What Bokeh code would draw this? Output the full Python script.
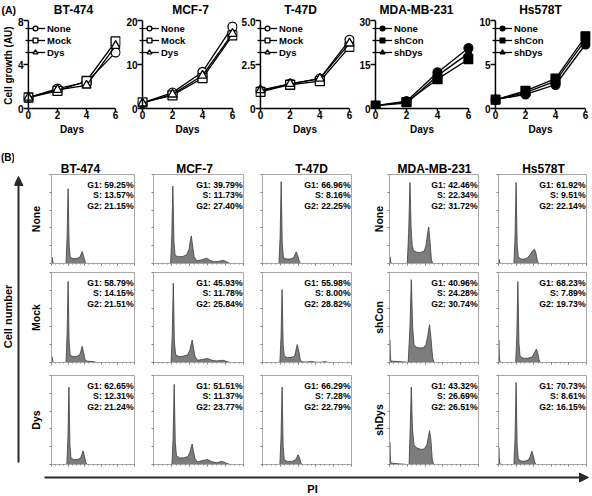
import math
from bokeh.plotting import figure
from bokeh.models import (Range1d, LinearAxis, FixedTicker, Legend, LegendItem,
                          Label, Arrow, NormalHead, Span)
from bokeh.layouts import row, column
from bokeh.embed import file_html
from bokeh.resources import INLINE

FONT = "Liberation Sans"

# ---------------- DATA: (A) growth curves ----------------
days = [0, 2, 4, 6]
cell_lines = ["BT-474", "MCF-7", "T-47D", "MDA-MB-231", "Hs578T"]
treat_luminal = ["None", "Mock", "Dys"]
treat_basal = ["None", "shCon", "shDys"]

bt474_none = [1.0, 1.8, 2.4, 5.1]
bt474_mock = [1.0, 1.6, 2.5, 6.1]
bt474_dys = [1.0, 1.7, 2.1, 5.7]
mcf7_none = [1.3, 3.6, 8.3, 18.6]
mcf7_mock = [1.4, 3.0, 6.9, 16.6]
mcf7_dys = [1.2, 3.2, 7.5, 17.0]
t47d_none = [1.0, 1.4, 1.7, 3.9]
t47d_mock = [0.95, 1.35, 1.55, 3.5]
t47d_dys = [1.05, 1.4, 1.7, 3.7]
mda_none = [1.0, 2.5, 12.3, 20.6]
mda_shcon = [1.0, 2.2, 10.0, 16.8]
mda_shdys = [1.0, 1.8, 11.2, 18.8]
hs_none = [1.0, 1.6, 2.7, 7.3]
hs_shcon = [1.0, 2.0, 3.4, 8.2]
hs_shdys = [1.0, 1.8, 3.1, 7.8]

bt474_yticks = [0, 4, 8]
mcf7_yticks = [0, 10, 20]
t47d_yticks = [0, 2.5, 5]
mda_yticks = [0, 15, 30]
hs_yticks = [0, 5, 10]
bt474_ylabels = ["0", "4", "8"]
mcf7_ylabels = ["0", "10", "20"]
t47d_ylabels = ["0", "2.5", "5.0"]
mda_ylabels = ["0", "15", "30"]
hs_ylabels = ["0", "5", "10"]

# ---------------- DATA: (B) cell-cycle histograms (PI channel %, relative count %) ----------------
h_bt474_none_x = [0, 0.6, 1.4, 2.2, 17.5, 18.8, 20.0, 21.2, 22.5, 26, 30, 34, 35.5, 37, 38.5, 40.5, 42, 100]
h_bt474_none_y = [0, 7, 3, 0, 0, 30, 84, 22, 7, 5.5, 5.5, 7, 10, 13.5, 9, 2, 0, 0]
h_bt474_mock_x = [0, 0.6, 1.4, 2.2, 17.5, 18.8, 20, 21.2, 22.5, 26, 30, 34, 35.5, 37, 38.5, 40.5, 43, 50, 55, 100]
h_bt474_mock_y = [0, 6.6, 2, 0, 0, 32, 90, 24, 8, 6.6, 6.6, 8.5, 13, 18, 12, 3, 1.5, 1, 0, 0]
h_bt474_dys_x = [0, 18.5, 19.8, 21, 22.2, 23.5, 27, 31, 35, 36.5, 38, 39.5, 41.5, 43, 100]
h_bt474_dys_y = [0, 0, 30, 87, 22, 7, 5.5, 5.5, 7, 11, 15.4, 10, 2, 0, 0]

h_mcf7_none_x = [0, 19, 20.3, 21.5, 22.7, 24, 28, 33, 37, 39.5, 41, 42, 43.2, 45, 48, 53, 59, 64, 68, 73, 77, 81, 85, 100]
h_mcf7_none_y = [0, 0, 30, 87, 25, 9, 7.5, 8, 10, 16, 26, 31, 22, 8, 3, 4, 6, 3, 2, 2.5, 3.7, 2, 0, 0]
h_mcf7_mock_x = [0, 19.5, 20.8, 22, 23.2, 24.5, 28, 33, 38, 40.5, 42, 43, 44.2, 46, 49, 55, 60, 65, 70, 77, 82, 85, 100]
h_mcf7_mock_y = [0, 0, 30, 88, 24, 9, 6.6, 7, 8.5, 14, 21, 25, 18, 7, 2.5, 3.5, 4.4, 2.5, 1.8, 2.5, 1, 0, 0]
h_mcf7_dys_x = [0, 20.5, 21.8, 23, 24.2, 25.5, 29, 34, 38.5, 40.5, 42, 43, 44.2, 46, 49, 55, 60, 65, 70, 76, 81, 85, 100]
h_mcf7_dys_y = [0, 0, 30, 90, 25, 10, 7.3, 7.5, 9, 14, 20, 23, 16, 7, 3, 4.5, 5.5, 3, 2, 3.5, 1.5, 0, 0]

h_t47d_none_x = [0, 18.5, 19.8, 21, 22.2, 23.5, 27, 31, 35, 36.5, 38, 39.5, 41.5, 43, 100]
h_t47d_none_y = [0, 0, 30, 92, 22, 6.5, 5, 5, 6.5, 10, 13, 9, 2, 0, 0]
h_t47d_mock_x = [0, 19.5, 20.8, 22, 23.2, 24.5, 28, 32, 36, 37.5, 39, 40.5, 42.5, 44, 50, 55, 60, 66, 70, 74, 100]
h_t47d_mock_y = [0, 0, 28, 81, 20, 7, 5.5, 5.5, 7, 13, 20, 14, 3, 0.8, 0.5, 1.2, 0.3, 0.3, 1, 0, 0]
h_t47d_dys_x = [0, 19.5, 20.8, 22, 23.2, 24.5, 28, 33, 37, 38.5, 40, 41.5, 43, 44.5, 100]
h_t47d_dys_y = [0, 0, 30, 87, 20, 5, 3.5, 3.5, 5, 8, 11, 8, 2, 0, 0]

h_mda_none_x = [0, 0.6, 1.4, 2.2, 20, 21.5, 23, 24.3, 25.5, 27, 31, 35, 39, 41, 42.5, 44, 45.5, 47, 48.5, 100]
h_mda_none_y = [0, 7.5, 2, 0, 0, 35, 91, 40, 20, 14.5, 12.5, 12.5, 14, 20, 32, 41, 25, 5, 0, 0]
h_mda_shcon_x = [0, 0.4, 0.8, 1.4, 3, 10, 18, 21, 23, 24.5, 26, 27.5, 30, 34, 38, 41, 43, 45, 46.5, 48.5, 50, 100]
h_mda_shcon_y = [0, 25, 12, 2, 1.5, 1, 0.5, 0, 40, 92, 40, 20, 17, 16, 16.5, 20, 30, 42, 28, 5, 0, 0]
h_mda_shdys_x = [0, 0.4, 0.8, 1.4, 3, 10, 20, 22, 23.2, 24.5, 25.8, 27.5, 30, 35, 39, 42, 43.5, 45, 46.5, 48, 49.5, 100]
h_mda_shdys_y = [0, 25, 12, 2, 1.5, 0.8, 0, 0, 38, 87, 40, 22, 19, 17, 17.5, 22, 30, 38, 28, 6, 0, 0]

h_hs_none_x = [0, 0.6, 1.4, 2.2, 17.5, 18.8, 20, 21.2, 22.5, 26, 30, 33, 36, 38.5, 41, 42.5, 44, 45.5, 100]
h_hs_none_y = [0, 5, 1.5, 0, 0, 30, 91, 22, 7, 5, 5, 6.5, 10, 14, 16, 12, 4, 0, 0]
h_hs_shcon_x = [0, 0.4, 0.8, 1.4, 3, 19.5, 20.8, 22, 23.2, 24.5, 28, 33, 38, 40.5, 43, 44.5, 46, 47.5, 100]
h_hs_shcon_y = [0, 25, 10, 1.5, 0, 0, 30, 90, 22, 7, 4.8, 4.8, 6, 10, 15, 11, 3, 0, 0]
h_hs_shdys_x = [0, 0.4, 0.8, 1.4, 3, 17.5, 18.8, 20, 21.2, 22.5, 26, 30, 34, 36, 38, 39.5, 41, 42.5, 100]
h_hs_shdys_y = [0, 19, 8, 1.5, 0, 0, 30, 92, 22, 6, 3.8, 3.8, 5, 9, 15, 10, 3, 0, 0]

g1_bt474 = [59.25, 58.79, 62.65]
s_bt474 = [13.57, 14.15, 12.31]
g2_bt474 = [21.15, 21.51, 21.24]
g1_mcf7 = [39.79, 45.93, 51.51]
s_mcf7 = [11.73, 11.78, 11.37]
g2_mcf7 = [27.40, 25.84, 23.77]
g1_t47d = [66.96, 55.98, 66.29]
s_t47d = [8.16, 8.00, 7.28]
g2_t47d = [22.25, 28.82, 22.79]
g1_mda = [42.46, 40.96, 43.32]
s_mda = [22.34, 24.28, 26.69]
g2_mda = [31.72, 30.74, 26.51]
g1_hs = [61.92, 68.23, 70.73]
s_hs = [9.51, 7.89, 8.61]
g2_hs = [22.14, 19.73, 16.15]


# ---------------- LAYOUT (pixel grid of the 592x496 page) ----------------
def bold(obj, prefix, size):
    setattr(obj, prefix + "_font", FONT)
    setattr(obj, prefix + "_font_size", size)
    setattr(obj, prefix + "_font_style", "bold")
    setattr(obj, prefix + "_color", "black")


def blank_fig(w, h, xr, yr, **kw):
    f = figure(width=w, height=h, x_range=Range1d(*xr), y_range=Range1d(*yr),
               x_axis_type=None, y_axis_type=None, toolbar_location=None,
               output_backend="svg", **kw)
    f.outline_line_color = None
    return f


W = 592
STRIP_W = 14                   # left strip: y titles and "(B)"
TOPBAND_H = 17                 # "(A)" and the part-A titles
A_FIG_TOP, A_FIG_BOT = TOPBAND_H, 162
A_TOP, A_BOT = 20, 108         # frame of the growth plots
MID_TOP, MID_BOT = 162, 174    # part-B titles
B_BOTTOM = 468

A_BOUNDS = [14, 122, 238, 356, 476, 592]
A_X0 = [26, 142, 259, 375, 494]
A_X6 = [115, 232, 349, 468, 585]
A_TITLE_X = [73, 190, 300, 416, 540]
PADPX = 5

B_TITLE_X = [80, 194, 311, 434, 543]


def growth_panel(i, series, names, filled, yticks, ylabels):
    b0, b1 = A_BOUNDS[i], A_BOUNDS[i + 1]
    unit = (A_X6[i] - A_X0[i]) / 6
    pad = PADPX / unit
    p = figure(width=b1 - b0, height=A_FIG_BOT - A_FIG_TOP,
               x_range=Range1d(-pad, 6 + pad), y_range=Range1d(0, yticks[-1]),
               x_axis_type=None, y_axis_type=None, toolbar_location=None,
               output_backend="svg",
               min_border_left=A_X0[i] - PADPX - b0, min_border_right=b1 - A_X6[i] - PADPX,
               min_border_top=A_TOP - A_FIG_TOP, min_border_bottom=A_FIG_BOT - A_BOT)
    p.outline_line_color = None

    xa = LinearAxis(ticker=FixedTicker(ticks=days, minor_ticks=[]), bounds=(0, 6),
                    axis_label="Days")
    ya = LinearAxis(ticker=FixedTicker(ticks=yticks, minor_ticks=[]),
                    major_label_overrides={t: l for t, l in zip(yticks, ylabels)})
    for ax in (xa, ya):
        ax.axis_line_width = 1.5
        ax.major_tick_line_width = 1.5
        bold(ax, "major_label_text", "10px")
        bold(ax, "axis_label_text", "10px")
    xa.major_tick_out = 3
    xa.major_tick_in = 0
    xa.major_label_standoff = -1
    xa.axis_label_standoff = 2
    # y axis line drawn at x = 0 (span); ticks reach from the frame edge to it
    ya.axis_line_color = None
    ya.major_tick_out = 0
    ya.major_tick_in = PADPX
    ya.major_label_standoff = 0
    p.add_layout(xa, "below")
    p.add_layout(ya, "left")
    p.add_layout(Span(location=0, dimension="height", line_color="black", line_width=1.5))

    markers = ["circle", "square", "triangle"]
    items = []
    for vals, name, mk in zip(series, names, markers):
        lr = p.line(days, vals, line_color="black", line_width=1.3)
        sr = p.scatter(days, vals, marker=mk, size=9, line_color="black", line_width=1.3,
                       fill_color="black" if filled else "white")
        items.append(LegendItem(label=name, renderers=[lr, sr]))
    leg = Legend(items=items, location="top_left", padding=0, margin=2,
                 spacing=0, glyph_width=20, glyph_height=12, label_height=12,
                 label_standoff=2, background_fill_alpha=0, border_line_alpha=0)
    bold(leg, "label_text", "9.5px")
    p.add_layout(leg)
    return p


# top band: "(A)" and the titles of the growth plots (page x / page y from the top)
top_band = blank_fig(W, TOPBAND_H, (0, W), (TOPBAND_H, 0), min_border=0)
lab_a = Label(x=1, y=9, text="(A)", text_align="left", text_baseline="middle")
bold(lab_a, "text", "10.5px")
top_band.add_layout(lab_a)
for name, xc in zip(cell_lines, A_TITLE_X):
    t = Label(x=xc, y=9, text=name, text_align="center", text_baseline="middle")
    bold(t, "text", "12px")
    top_band.add_layout(t)

# left strip (page y from the top): shared titles and "(B)"
strip = blank_fig(STRIP_W, B_BOTTOM - TOPBAND_H, (0, STRIP_W), (B_BOTTOM, TOPBAND_H), min_border=0)
lab_cg = Label(x=8, y=65, text="Cell growth (AU)", angle=math.pi / 2,
               text_align="center", text_baseline="middle")
bold(lab_cg, "text", "10px")
strip.add_layout(lab_cg)
lab_b = Label(x=0.5, y=157, text="(B)", text_align="left", text_baseline="middle")
bold(lab_b, "text", "10px")
strip.add_layout(lab_b)
lab_cn = Label(x=7.5, y=316, text="Cell number", angle=math.pi / 2,
               text_align="center", text_baseline="middle")
bold(lab_cn, "text", "11px")
strip.add_layout(lab_cn)

A_figs = [
    growth_panel(0, [bt474_none, bt474_mock, bt474_dys], treat_luminal, False, bt474_yticks, bt474_ylabels),
    growth_panel(1, [mcf7_none, mcf7_mock, mcf7_dys], treat_luminal, False, mcf7_yticks, mcf7_ylabels),
    growth_panel(2, [t47d_none, t47d_mock, t47d_dys], treat_luminal, False, t47d_yticks, t47d_ylabels),
    growth_panel(3, [mda_none, mda_shcon, mda_shdys], treat_basal, True, mda_yticks, mda_ylabels),
    growth_panel(4, [hs_none, hs_shcon, hs_shdys], treat_basal, True, hs_yticks, hs_ylabels),
]

# middle band: titles of the histogram columns (page coordinates)
mid_band = blank_fig(W - STRIP_W, MID_BOT - MID_TOP, (STRIP_W, W), (MID_BOT, MID_TOP), min_border=0)
for name, xc in zip(cell_lines, B_TITLE_X):
    t = Label(x=xc, y=168, text=name, text_align="center", text_baseline="middle")
    bold(t, "text", "12px")
    mid_band.add_layout(t)

# ---- part B ----
B_BOUNDS = [26, 148, 253, 365, 488, 592]
B_BOX_L = [44, 153, 262, 389, 498]
B_BOX_R = [134, 243, 351, 478, 586]
B_ROW_FIG = [(MID_BOT, 268), (268, 368), (368, B_BOTTOM)]
B_ROW_BOX = [(174, 263), (272, 362), (375, 464)]
B_LABEL_STANDOFF = [8, 0, 0, 3, 0]
BOX_GRAY = "#a8a8a8"
TICK_GRAY = "#808080"


def hist_panel(ci, ri, xs, ys, g1, s, g2, ylabel=None):
    b0, b1 = B_BOUNDS[ci], B_BOUNDS[ci + 1]
    f0, f1 = B_ROW_FIG[ri]
    t, b = B_ROW_BOX[ri]
    p = figure(width=b1 - b0, height=f1 - f0,
               x_range=Range1d(0, 100), y_range=Range1d(0, 100),
               x_axis_type=None, y_axis_type=None, toolbar_location=None,
               output_backend="svg",
               min_border_left=B_BOX_L[ci] - b0, min_border_right=b1 - B_BOX_R[ci],
               min_border_top=t - f0, min_border_bottom=f1 - b)
    p.outline_line_color = BOX_GRAY
    p.patch(xs, ys, fill_color="#7d7d7d", line_color="#3c3c3c", line_width=0.8)
    xa = LinearAxis(ticker=FixedTicker(ticks=[0, 20, 40, 60, 80, 100], minor_ticks=list(range(0, 101, 5))))
    ya = LinearAxis(ticker=FixedTicker(ticks=[0, 20, 40, 60, 80, 100], minor_ticks=[]))
    for ax in (xa, ya):
        ax.major_label_text_font_size = "1px"
        ax.major_label_text_color = None
        ax.major_label_standoff = 0
        ax.major_tick_out = 2
        ax.major_tick_in = 0
        ax.minor_tick_out = 1
        ax.minor_tick_in = 0
        ax.axis_line_color = BOX_GRAY
        ax.major_tick_line_color = TICK_GRAY
        ax.minor_tick_line_color = TICK_GRAY
    if ylabel:
        ya.axis_label = ylabel
        bold(ya, "axis_label_text", "10.5px")
        ya.axis_label_standoff = B_LABEL_STANDOFF[ci]
    p.add_layout(xa, "below")
    p.add_layout(ya, "left")
    for k, txt in enumerate(["G1: %.2f%%" % g1, "S: %.2f%%" % s, "G2: %.2f%%" % g2]):
        lab = Label(x=99, y=100 - (10 + 10.5 * k) / (b - t) * 100, text=txt,
                    text_align="right", text_baseline="middle")
        bold(lab, "text", "8.7px")
        p.add_layout(lab)
    return p


hist_data = [
    ([h_bt474_none_x, h_bt474_mock_x, h_bt474_dys_x], [h_bt474_none_y, h_bt474_mock_y, h_bt474_dys_y],
     g1_bt474, s_bt474, g2_bt474, treat_luminal),
    ([h_mcf7_none_x, h_mcf7_mock_x, h_mcf7_dys_x], [h_mcf7_none_y, h_mcf7_mock_y, h_mcf7_dys_y],
     g1_mcf7, s_mcf7, g2_mcf7, None),
    ([h_t47d_none_x, h_t47d_mock_x, h_t47d_dys_x], [h_t47d_none_y, h_t47d_mock_y, h_t47d_dys_y],
     g1_t47d, s_t47d, g2_t47d, None),
    ([h_mda_none_x, h_mda_shcon_x, h_mda_shdys_x], [h_mda_none_y, h_mda_shcon_y, h_mda_shdys_y],
     g1_mda, s_mda, g2_mda, treat_basal),
    ([h_hs_none_x, h_hs_shcon_x, h_hs_shdys_x], [h_hs_none_y, h_hs_shcon_y, h_hs_shdys_y],
     g1_hs, s_hs, g2_hs, None),
]

B_cols = []
for ci, (xs_l, ys_l, g1s, ss, g2s, rlabels) in enumerate(hist_data):
    figs = [hist_panel(ci, ri, xs_l[ri], ys_l[ri], g1s[ri], ss[ri], g2s[ri],
                       rlabels[ri] if rlabels else None) for ri in range(3)]
    B_cols.append(column(*figs))

# vertical "Cell number" arrow (page coordinates, y from the top)
arrow_fig = blank_fig(B_BOUNDS[0] - STRIP_W, B_BOTTOM - MID_BOT, (STRIP_W, B_BOUNDS[0]),
                      (B_BOTTOM, MID_BOT), min_border=0)
arrow_fig.add_layout(Arrow(end=NormalHead(size=9, fill_color="#2a2a2a", line_color="#2a2a2a"),
                           x_start=18, y_start=462, x_end=18, y_end=176,
                           line_width=2, line_color="#2a2a2a"))

# bottom decoration: PI arrow (page coordinates, y from the top)
PI_BOTTOM = 496
pi_fig = blank_fig(W, PI_BOTTOM - B_BOTTOM, (0, W), (PI_BOTTOM, B_BOTTOM), min_border=0)
pi_fig.add_layout(Arrow(end=NormalHead(size=9, fill_color="#2a2a2a", line_color="#2a2a2a"),
                        x_start=44, y_start=477, x_end=588, y_end=477,
                        line_width=2, line_color="#2a2a2a"))
lab_pi = Label(x=312, y=488, text="PI", text_align="center", text_baseline="middle")
bold(lab_pi, "text", "11px")
pi_fig.add_layout(lab_pi)

right_block = column(row(*A_figs), mid_band, row(arrow_fig, *B_cols))
layout = column(top_band, row(strip, right_block), pi_fig)

open("out.html", "w").write(file_html(layout, INLINE))
